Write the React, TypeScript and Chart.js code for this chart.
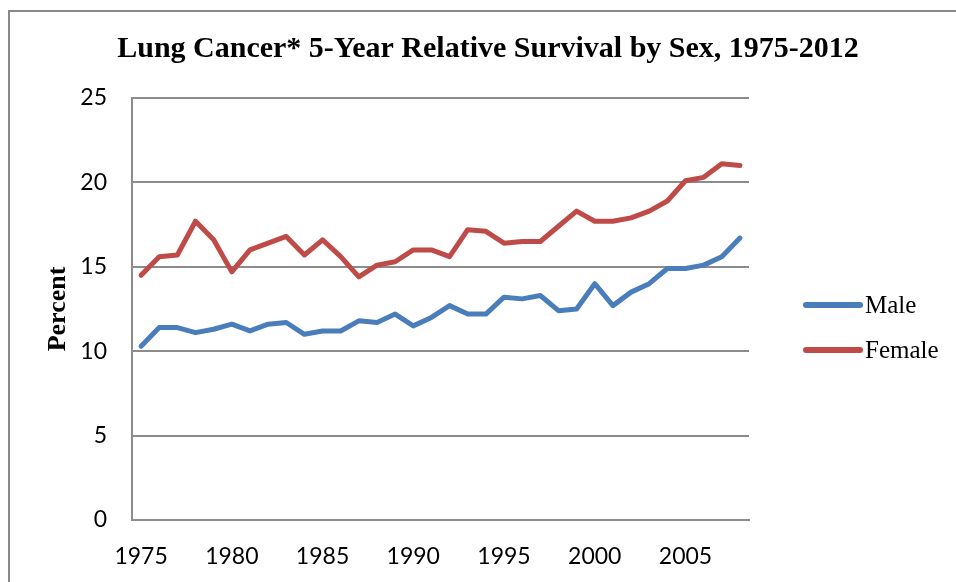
import React, { useEffect, useRef } from "react";
import { Chart, registerables } from "chart.js";

Chart.register(...registerables);

const titleText = "Lung Cancer* 5-Year Relative Survival by Sex, 1975-2012";
const yAxisTitle = "Percent";

const years = [
  1975, 1976, 1977, 1978, 1979, 1980, 1981, 1982, 1983, 1984,
  1985, 1986, 1987, 1988, 1989, 1990, 1991, 1992, 1993, 1994,
  1995, 1996, 1997, 1998, 1999, 2000, 2001, 2002, 2003, 2004,
  2005, 2006, 2007, 2008,
];

const male = [
  10.3, 11.4, 11.4, 11.1, 11.3, 11.6, 11.2, 11.6, 11.7, 11.0,
  11.2, 11.2, 11.8, 11.7, 12.2, 11.5, 12.0, 12.7, 12.2, 12.2,
  13.2, 13.1, 13.3, 12.4, 12.5, 14.0, 12.7, 13.5, 14.0, 14.9,
  14.9, 15.1, 15.6, 16.7,
];

const female = [
  14.5, 15.6, 15.7, 17.7, 16.6, 14.7, 16.0, 16.4, 16.8, 15.7,
  16.6, 15.6, 14.4, 15.1, 15.3, 16.0, 16.0, 15.6, 17.2, 17.1,
  16.4, 16.5, 16.5, 17.4, 18.3, 17.7, 17.7, 17.9, 18.3, 18.9,
  20.1, 20.3, 21.1, 21.0,
];

const yTicks = [0, 5, 10, 15, 20, 25];

const MALE_COLOR = "#4a7ebb";
const FEMALE_COLOR = "#be4b48";
const GRID_COLOR = "#8c8c8c";

const decorPlugin = {
  id: "decor",
  afterDraw(chart: any) {
    const ctx = chart.ctx;
    ctx.save();
    // title
    ctx.fillStyle = "#000";
    ctx.font = "bold 30px 'Liberation Serif'";
    ctx.textAlign = "center";
    ctx.textBaseline = "middle";
    ctx.fillText(titleText, 488, 49);
    // legend
    const items = chart.data.datasets;
    items.forEach((ds: any, i: number) => {
      const y = 305 + i * 45;
      ctx.strokeStyle = ds.borderColor;
      ctx.lineWidth = 6;
      ctx.lineCap = "round";
      ctx.beginPath();
      ctx.moveTo(806, y);
      ctx.lineTo(860, y);
      ctx.stroke();
      ctx.fillStyle = "#000";
      ctx.font = "25px 'Liberation Serif'";
      ctx.textAlign = "left";
      ctx.textBaseline = "middle";
      ctx.fillText(ds.label, 865, y + 1);
    });
    ctx.restore();
  },
};

export default function App() {
  const canvasRef = useRef<HTMLCanvasElement | null>(null);

  useEffect(() => {
    if (!canvasRef.current) return;
    const chart = new Chart(canvasRef.current, {
      type: "line",
      data: {
        labels: years.map(String),
        datasets: [
          {
            label: "Male",
            data: male,
            borderColor: MALE_COLOR,
            backgroundColor: MALE_COLOR,
            borderWidth: 5,
            pointRadius: 0,
            tension: 0,
            borderJoinStyle: "round",
            borderCapStyle: "round",
          },
          {
            label: "Female",
            data: female,
            borderColor: FEMALE_COLOR,
            backgroundColor: FEMALE_COLOR,
            borderWidth: 5,
            pointRadius: 0,
            tension: 0,
            borderJoinStyle: "round",
            borderCapStyle: "round",
          },
        ],
      },
      options: {
        animation: false,
        responsive: false,
        maintainAspectRatio: false,
        layout: { padding: { left: 0, right: 207, top: 98, bottom: 0 } },
        plugins: {
          legend: { display: false },
          title: { display: false },
          tooltip: { enabled: false },
        },
        scales: {
          x: {
            type: "category",
            offset: true,
            grid: { display: false, drawTicks: false },
            border: { display: true, color: GRID_COLOR, width: 2 },
            ticks: {
              autoSkip: false,
              maxRotation: 0,
              minRotation: 0,
              padding: 23,
              color: "#000",
              font: { family: "Lato", size: 23 },
              callback: (_v: any, i: number) =>
                years[i] % 5 === 0 ? String(years[i]) : "",
            },
            afterFit: (s: any) => {
              s.height = 62;
            },
          },
          y: {
            min: 0,
            max: 25,
            afterBuildTicks: (s: any) => {
              s.ticks = yTicks.map((v) => ({ value: v }));
            },
            grid: { color: GRID_COLOR, lineWidth: 2, drawTicks: false },
            border: { display: true, color: GRID_COLOR, width: 2 },
            ticks: {
              padding: 25,
              color: "#000",
              font: { family: "Lato", size: 23 },
            },
            title: {
              display: true,
              text: yAxisTitle,
              color: "#000",
              font: { family: "Liberation Serif", size: 26, weight: "bold" },
              padding: { top: 43, bottom: 0 },
            },
            afterFit: (s: any) => {
              s.width = 132;
            },
          },
        },
      },
      plugins: [decorPlugin],
    });
    return () => chart.destroy();
  }, []);

  return (
    <div
      style={{
        position: "absolute",
        left: 0,
        top: 0,
        width: 956,
        height: 582,
        overflow: "hidden",
        background: "#fff",
      }}
    >
      <div
        style={{
          position: "absolute",
          left: 8,
          top: 10,
          width: 1200,
          height: 1200,
          borderLeft: "2px solid #898989",
          borderTop: "2px solid #898989",
        }}
      />
      <canvas
        ref={canvasRef}
        width={956}
        height={582}
        style={{ position: "absolute", left: 0, top: 0, width: 956, height: 582 }}
      />
    </div>
  );
}
